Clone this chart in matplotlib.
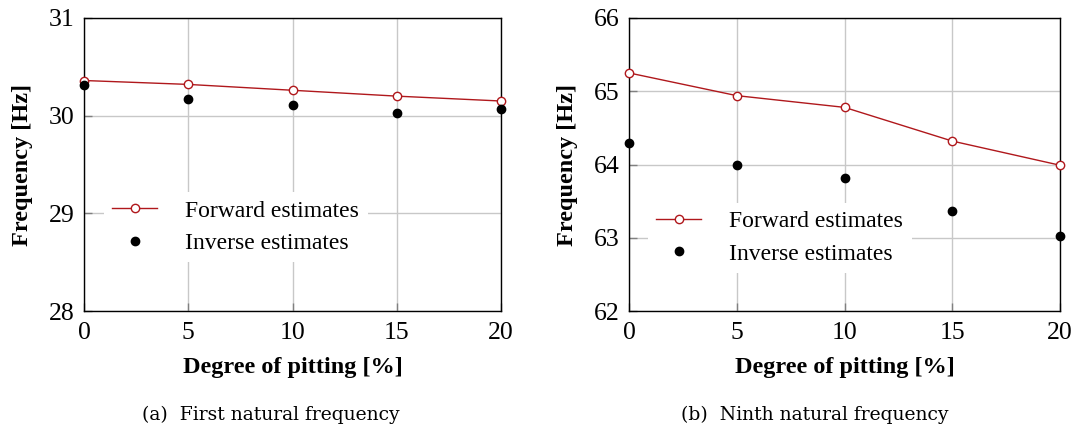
import matplotlib
matplotlib.use("Agg")
import matplotlib.pyplot as plt

pitting = [0, 5, 10, 15, 20]

first_forward = [30.36, 30.32, 30.26, 30.20, 30.15]
first_inverse = [30.31, 30.17, 30.11, 30.03, 30.07]

ninth_forward = [65.25, 64.94, 64.78, 64.32, 63.99]
ninth_inverse = [64.29, 63.99, 63.81, 63.36, 63.02]

first_yticks = [28, 29, 30, 31]
ninth_yticks = [62, 63, 64, 65, 66]
xticks = [0, 5, 10, 15, 20]

panels = [
    (first_forward, first_inverse, (28, 31), first_yticks,
     "(a)  First natural frequency", (0.048, 0.167)),
    (ninth_forward, ninth_inverse, (62, 66), ninth_yticks,
     "(b)  Ninth natural frequency", (0.044, 0.13)),
]

plt.rcParams["font.family"] = ["Liberation Serif", "DejaVu Serif"]

fig = plt.figure(figsize=(10.75, 4.3), dpi=100)
W, H = 1075, 430
boxes = [(84, 18, 501, 311), (629, 18, 1060, 311)]
caption_x = [271, 815]

red = "#b0181c"

for (fwd, inv, ylim, yt, caption, legpos), (x0, y0, x1, y1), cx in zip(panels, boxes, caption_x):
    ax = fig.add_axes([x0 / W, 1 - y1 / H, (x1 - x0) / W, (y1 - y0) / H])
    ax.plot(pitting, fwd, color=red, lw=1.0, marker="o", ms=6,
            mfc="white", mec=red, mew=1.0, label="Forward estimates",
            clip_on=False, zorder=4)
    ax.plot(pitting, inv, ls="none", marker="o", ms=6, color="black",
            label="Inverse estimates", clip_on=False, zorder=5)
    ax.set_xlim(0, 20)
    ax.set_ylim(*ylim)
    ax.set_xticks(xticks)
    ax.set_yticks(yt)
    ax.grid(True, color="#c8c8c8", lw=1.0)
    ax.set_axisbelow(True)
    ax.tick_params(direction="in", length=6, color="#808080", width=1.0,
                   labelsize=18.5, pad=7)
    ax.tick_params(axis="x", pad=8)
    for s in ax.spines.values():
        s.set_linewidth(1.0)
        s.set_color("black")
    ax.set_xlabel("Degree of pitting [%]", fontsize=17.5, fontweight="bold",
                  labelpad=9.5)
    ax.set_ylabel("Frequency [Hz]", fontsize=17.5, fontweight="bold",
                  labelpad=11)
    leg = ax.legend(loc="lower left", bbox_to_anchor=legpos, fontsize=17,
                    frameon=True, fancybox=False, edgecolor="none",
                    facecolor="white", framealpha=1.0, handlelength=1.9,
                    handletextpad=1.2, labelspacing=0.45, borderpad=0.35,
                    borderaxespad=0)
    leg.set_zorder(3)
    fig.text(cx / W, 1 - 415 / H, caption, fontsize=13.5, ha="center",
             va="center", family=["DejaVu Serif"])

fig.savefig("out.png", dpi=100)
